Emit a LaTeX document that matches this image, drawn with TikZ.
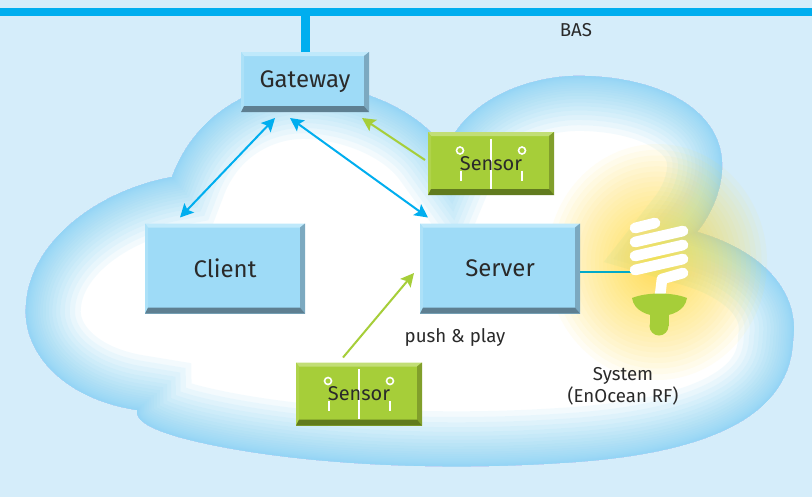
\documentclass[tikz,border=0pt]{standalone}
\usepackage{fontspec}
\setmainfont{Fira Sans}
\usetikzlibrary{arrows.meta,calc}

\definecolor{bg}{HTML}{D5EDFA}
\definecolor{bus}{HTML}{00AEEF}
\definecolor{cloudedge}{HTML}{8ED5F5}
\definecolor{ink}{HTML}{2A2A2A}
\definecolor{boxfill}{HTML}{9EDBF7}
\definecolor{boxtop}{HTML}{BFE9FB}
\definecolor{boxleft}{HTML}{ACE1F8}
\definecolor{boxright}{HTML}{7CA9C0}
\definecolor{boxbottom}{HTML}{5E7F91}
\definecolor{senfill}{HTML}{A6CE39}
\definecolor{sentop}{HTML}{C2DE76}
\definecolor{senleft}{HTML}{AFD34B}
\definecolor{senright}{HTML}{819F2B}
\definecolor{senbottom}{HTML}{617B1E}
\definecolor{arrowgreen}{HTML}{A6CE39}
\definecolor{glow}{HTML}{FFE04A}
\definecolor{wire}{HTML}{00A9C9}

% bevelled edges of a box, drawn inside the node's own outline
\newcommand\bevelparts[4]{%
  \path (path picture bounding box.north west) coordinate (bvnw)
        (path picture bounding box.north east) coordinate (bvne)
        (path picture bounding box.south west) coordinate (bvsw)
        (path picture bounding box.south east) coordinate (bvse);
  \fill[#1] (bvnw) -- (bvne) -- ($(bvne)+(-5,4)$) -- ($(bvnw)+(3,4)$) -- cycle;
  \fill[#2] (bvnw) -- ($(bvnw)+(3,4)$) -- ($(bvsw)+(3,-6)$) -- (bvsw) -- cycle;
  \fill[#3] (bvne) -- (bvse) -- ($(bvse)+(-5,-6)$) -- ($(bvne)+(-5,4)$) -- cycle;
  \fill[#4] (bvsw) -- (bvse) -- ($(bvse)+(-5,-6)$) -- ($(bvsw)+(3,-6)$) -- cycle;
}
% the small switch symbol on a sensor
\newcommand\sensormarks{%
  \path (path picture bounding box.center) coordinate (smc);
  \draw[white, line width=1.5pt] ($(smc)+(0,-25)$) -- ($(smc)+(0,25)$);
  \draw[white, line width=1.2pt] ($(smc)+(-31,-13)$) circle (3.5)
                                 ($(smc)+(31,-13)$) circle (3.5);
  \draw[white, line width=1.5pt] ($(smc)+(-30,7)$) -- ($(smc)+(-30,17)$)
                                 ($(smc)+(31,7)$) -- ($(smc)+(31,17)$);
}

\tikzset{
  boxtext/.style={text=ink, inner sep=0pt, outer sep=0pt},
  bluebox/.style={boxtext, fill=boxfill, font=\fontsize{18}{20}\selectfont,
    path picture={\bevelparts{boxtop}{boxleft}{boxright}{boxbottom}}},
  sensorbox/.style={boxtext, fill=senfill, font=\fontsize{15}{17}\selectfont,
    minimum width=94.5pt, minimum height=47.25pt,
    path picture={\bevelparts{sentop}{senleft}{senright}{senbottom}\sensormarks}},
  caption/.style={text=ink, inner sep=0pt, font=\fontsize{14}{16.5}\selectfont},
  bluearrow/.style={bus, line width=1.5pt,
    {Stealth[length=10pt,width=10pt,inset=2pt]}-{Stealth[length=10pt,width=10pt,inset=2pt]}},
  greenarrow/.style={arrowgreen, line width=1.5pt,
    -{Stealth[length=10pt,width=10pt,inset=2pt]}},
  busline/.style={bus, line width=6pt},
  bulbline/.style={wire, line width=1.5pt},
}

\begin{document}
\begin{tikzpicture}[x=0.75pt, y=-0.75pt]
  \useasboundingbox (0,0) rectangle (812,497);
  \fill[bg] (0,0) rectangle (812,497);

  % bus bar
  \coordinate (busL) at (0,12);
  \coordinate (busR) at (812,12);
  \draw[busline] (busL) -- (busR);

  % cloud
  \path[save path=\cloudp]
    (137,410) .. controls (60,398) and (22,350) .. (26,305)
    .. controls (30,240) and (100,190) .. (172,177)
    .. controls (195,115) and (250,85) .. (300,84)
    .. controls (350,83) and (415,105) .. (446,150)
    .. controls (465,100) and (530,74) .. (585,76)
    .. controls (660,78) and (725,110) .. (722,170)
    .. controls (720,200) and (705,222) .. (697,232)
    .. controls (760,250) and (800,290) .. (793,340)
    .. controls (790,420) and (700,455) .. (560,463)
    .. controls (420,472) and (280,462) .. (190,440)
    .. controls (150,430) and (135,420) .. (137,410) -- cycle;
  \begin{scope}
    \clip[use path=\cloudp];
    \fill[white] (0,0) rectangle (812,497);
    % soft inner glow along the rim, strongest at the edge
    \foreach \i in {1,...,28}{
      \pgfmathsetmacro\lw{0.75*110*(\i/28)^3}
      \draw[cloudedge, opacity=0.1, line width=\lw pt, use path=\cloudp];
    }
  \end{scope}

  % glow of the lamp
  \foreach \i in {1,...,40}{
    \pgfmathsetmacro\rx{110*(\i/40)^2}
    \pgfmathsetmacro\ry{118*(\i/40)^2}
    \fill[glow, opacity=0.06] (657,262) ellipse ({\rx} and {\ry});
  }

  % boxes
  \node[bluebox, minimum width=96pt, minimum height=45pt] (gw) at (305,82) {Gateway};
  \node[bluebox, minimum width=120pt, minimum height=67.5pt] (client) at (225,268.5) {Client};
  \node[bluebox, minimum width=120pt, minimum height=67.5pt] (server) at (500,268.5) {Server};
  \node[sensorbox] (s1) at (491,163.5) {Sensor};
  \node[sensorbox] (s2) at (359,394) {Sensor};

  % gateway drop to the bus
  \draw[bus, line width=6.75pt] (gw.north) -- (gw.north |- busL);

  % wire from the server to the lamp
  \coordinate (bulb) at (632,272);
  \draw[bulbline] (server.east |- bulb) -- (bulb);

  % lamp: white spiral tube
  \begin{scope}[white, line width=8pt, line cap=round, line join=round]
    \draw (635,228) -- (655,223);
    \draw (635,242) -- (683,231);
    \draw (635,256) -- (683,245);
    \draw (635,270) -- (683,259);
    \draw (683,273) -- (662,279) -- (660,296);
  \end{scope}
  % lamp: green socket
  \fill[arrowgreen] (632,298) .. controls (634,311) and (648,316) .. (659.5,316)
    .. controls (671,316) and (685,311) .. (687,298)
    .. controls (672,292) and (647,292) .. (632,298) -- cycle;
  \fill[arrowgreen] (649.5,310) rectangle (668.5,326);
  \fill[arrowgreen] (659,326) circle (9.5);

  % connectors
  \draw[bluearrow] ($(gw.south)+(-30,6)$) -- ($(client.north)+(-45,-6)$);
  \draw[bluearrow] ($(gw.south)+(-15,6)$) -- ($(server.north)+(-72,-6)$);
  \draw[greenarrow] ($(s1.west)+(-3,-3.5)$) -- ($(gw.south)+(57,6)$);
  \draw[greenarrow] ($(s2.north)+(-16,-5)$) -- ($(server.west)+(-6,4.5)$);

  % captions
  \node[caption] (bas) at (576,30) {BAS};
  \node[caption] (pp) at (455,337) {push \& play};
  \node[caption, align=center] (sys) at (623,386) {System\\(EnOcean RF)};
\end{tikzpicture}
\end{document}
